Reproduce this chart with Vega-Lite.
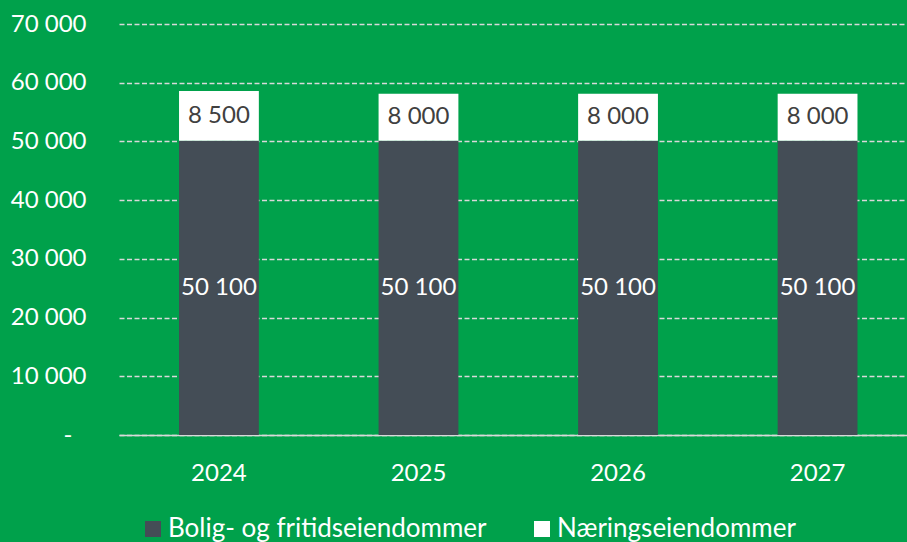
{
  "$schema": "https://vega.github.io/schema/vega-lite/v6.json",
  "width": 788,
  "height": 411,
  "autosize": "none",
  "padding": {"left": 119, "top": 24, "right": 0, "bottom": 107},
  "background": "#00A14B",
  "config": {
    "view": {"stroke": null},
    "font": "Lato",
    "locale": {"number": {"decimal": ",", "thousands": " ", "grouping": [3], "currency": ["", ""]}}
  },
  "data": {
    "values": [
      {"year": "2024", "type": "Bolig- og fritidseiendommer", "value": 50100},
      {"year": "2024", "type": "Næringseiendommer", "value": 8500},
      {"year": "2025", "type": "Bolig- og fritidseiendommer", "value": 50100},
      {"year": "2025", "type": "Næringseiendommer", "value": 8000},
      {"year": "2026", "type": "Bolig- og fritidseiendommer", "value": 50100},
      {"year": "2026", "type": "Næringseiendommer", "value": 8000},
      {"year": "2027", "type": "Bolig- og fritidseiendommer", "value": 50100},
      {"year": "2027", "type": "Næringseiendommer", "value": 8000}
    ]
  },
  "transform": [
    {"stack": "value", "groupby": ["year"], "sort": [{"field": "type", "order": "ascending"}], "as": ["v0", "v1"]},
    {"calculate": "(datum.v0 + datum.v1) / 2", "as": "mid"}
  ],
  "encoding": {
    "x": {
      "field": "year", "type": "ordinal",
      "scale": {"paddingInner": 0.6, "paddingOuter": 0.2745, "align": 0.548},
      "axis": {
        "title": null, "labelAngle": 0, "ticks": false,
        "domainColor": "#D9D9D9", "domainWidth": 1.5,
        "labelColor": "#FFFFFF", "labelFontSize": 24, "labelPadding": 26, "labelFont": "Lato"
      }
    }
  },
  "layer": [
    {
      "mark": {"type": "bar"},
      "encoding": {
        "y": {
          "field": "v0", "type": "quantitative",
          "scale": {"domain": [0, 70000], "nice": false},
          "axis": {
            "title": null, "values": [0, 10000, 20000, 30000, 40000, 50000, 60000, 70000],
            "domain": false, "ticks": false,
            "gridColor": "#D9D9D9", "gridDash": [5, 2.5], "gridWidth": 1.5,
            "labelColor": "#FFFFFF", "labelFontSize": 24, "labelFont": "Lato",
            "labelPadding": {"condition": {"test": "datum.value == 0", "value": 47}, "value": 33},
            "labelExpr": "datum.value == 0 ? '-' : datum.label"
          }
        },
        "y2": {"field": "v1"},
        "color": {
          "field": "type", "type": "nominal",
          "scale": {"domain": ["Bolig- og fritidseiendommer", "Næringseiendommer"], "range": ["#444D56", "#FFFFFF"]},
          "legend": {
            "title": null, "orient": "none", "direction": "horizontal",
            "legendX": 21, "legendY": 492,
            "symbolType": "square", "symbolSize": 256, "symbolStrokeWidth": 0,
            "labelColor": "#FFFFFF", "labelFontSize": 26, "labelFont": "Lato",
            "labelOffset": 2, "columnPadding": 42, "labelLimit": 500
          }
        }
      }
    },
    {
      "mark": {"type": "text", "fontSize": 24, "font": "Lato", "baseline": "middle", "align": "center"},
      "encoding": {
        "y": {"field": "mid", "type": "quantitative"},
        "text": {"field": "value", "type": "quantitative", "format": ",d"},
        "color": {
          "condition": {"test": "datum.type == 'Næringseiendommer'", "value": "#404040"},
          "value": "#FFFFFF"
        }
      }
    }
  ]
}
